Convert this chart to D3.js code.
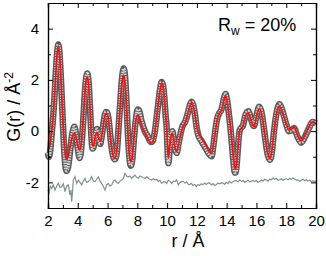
<!DOCTYPE html>
<html>
<head>
<meta charset="utf-8">
<script src="https://cdn.jsdelivr.net/npm/d3@7"></script>
<style>
  body { margin: 0; background: #fff; }
  text { font-family: "Liberation Sans", Arial, sans-serif; }
</style>
</head>
<body>
<div id="chart"></div>
<script>
// observed G(r) (open circles)
var rObs = [2.00,2.06,2.14,2.25,2.40,2.52,2.62,2.69,2.77,2.87,2.97,3.07,3.16,3.25,3.35,3.48,3.62,3.77,3.90,4.02,4.13,4.25,4.38,4.50,4.58,4.64,4.72,4.82,4.92,4.99,5.07,5.18,5.30,5.42,5.50,5.62,5.76,5.90,5.98,6.08,6.22,6.36,6.49,6.61,6.72,6.85,6.97,7.08,7.18,7.28,7.38,7.47,7.57,7.67,7.78,7.90,8.03,8.12,8.28,8.50,8.70,8.90,9.03,9.18,9.30,9.42,9.52,9.63,9.72,9.81,9.90,9.98,10.03,10.09,10.18,10.26,10.35,10.45,10.55,10.64,10.75,10.90,11.05,11.20,11.40,11.55,11.65,11.76,11.87,11.98,12.09,12.32,12.54,12.77,12.99,13.10,13.22,13.35,13.50,13.60,13.72,13.83,13.93,14.03,14.15,14.25,14.35,14.45,14.55,14.62,14.72,14.82,14.89,15.00,15.10,15.25,15.45,15.62,15.83,16.00,16.19,16.35,16.48,16.58,16.76,16.92,17.05,17.14,17.32,17.54,17.74,17.96,18.19,18.35,18.52,18.76,19.00,19.26,19.53,19.76,20.00];
var gObs = [-0.85,-1.00,-0.80,-0.10,1.00,2.25,3.10,3.38,3.05,2.00,0.70,-0.55,-1.30,-1.55,-1.40,-0.80,-0.15,0.17,-0.20,-0.75,-1.05,-0.55,0.55,1.70,2.15,2.25,1.95,0.95,-0.25,-0.68,-0.60,-0.15,0.08,-0.30,-0.50,-0.15,0.45,0.75,0.72,0.42,-0.40,-0.95,-1.10,-0.90,-0.05,1.10,2.05,2.44,2.10,1.00,-0.25,-1.05,-1.35,-1.05,-0.25,0.45,0.84,0.80,0.40,0.00,-0.20,-0.42,-0.40,0.00,0.55,1.15,1.60,1.92,1.80,1.35,0.60,0.05,-0.75,-1.25,-0.60,-0.15,0.00,-0.35,-0.72,-0.85,-0.55,-0.10,0.22,0.35,0.72,1.05,1.15,1.00,0.65,0.15,-0.15,-0.40,-0.62,-0.85,-0.98,-0.60,-0.05,0.45,0.70,0.78,1.00,1.32,1.45,1.20,0.65,0.15,-0.50,-1.15,-1.62,-1.60,-0.95,-0.20,0.06,0.15,0.22,0.60,0.78,0.50,0.20,0.60,0.95,0.70,0.20,-0.25,-0.92,-1.12,-0.75,-0.22,0.60,1.05,0.80,0.35,0.00,0.02,0.12,-0.22,-0.45,-0.22,0.12,0.36,0.30];

// calculated G(r) (red line)
var rFit = [2.00,2.12,2.25,2.40,2.52,2.62,2.69,2.77,2.87,2.97,3.07,3.16,3.25,3.36,3.50,3.65,3.79,3.92,4.04,4.15,4.26,4.38,4.50,4.58,4.64,4.72,4.82,4.92,4.99,5.07,5.18,5.30,5.42,5.52,5.63,5.76,5.88,5.96,6.06,6.20,6.35,6.48,6.60,6.72,6.85,6.97,7.07,7.17,7.28,7.38,7.47,7.57,7.67,7.78,7.90,8.02,8.12,8.29,8.50,8.72,8.92,9.05,9.18,9.30,9.42,9.52,9.63,9.72,9.81,9.90,9.98,10.03,10.08,10.18,10.26,10.35,10.45,10.55,10.64,10.75,10.90,11.05,11.20,11.40,11.55,11.65,11.76,11.87,11.98,12.09,12.32,12.54,12.77,12.99,13.10,13.22,13.35,13.50,13.62,13.72,13.83,13.93,14.03,14.15,14.25,14.35,14.45,14.55,14.62,14.72,14.82,14.89,15.00,15.10,15.25,15.45,15.62,15.83,16.00,16.19,16.35,16.48,16.58,16.76,16.92,17.05,17.14,17.32,17.54,17.74,17.96,18.19,18.35,18.52,18.76,19.00,19.26,19.53,19.76,20.00];
var gFit = [-0.74,-0.55,0.00,1.00,2.20,3.05,3.33,3.00,2.00,0.80,-0.30,-0.90,-1.10,-0.95,-0.55,-0.20,-0.08,-0.35,-0.65,-0.74,-0.35,0.60,1.65,2.05,2.12,1.85,0.90,-0.20,-0.58,-0.55,-0.20,-0.05,-0.30,-0.40,-0.10,0.40,0.68,0.70,0.45,-0.30,-0.90,-1.06,-0.85,-0.10,1.00,1.90,2.18,1.85,0.90,-0.20,-0.95,-1.20,-0.95,-0.20,0.40,0.62,0.56,0.23,-0.05,-0.30,-0.45,-0.40,0.00,0.56,1.15,1.55,1.88,1.75,1.30,0.60,0.10,-0.60,-1.05,-0.55,-0.20,-0.08,-0.35,-0.70,-0.80,-0.55,-0.15,0.15,0.32,0.69,1.00,1.12,0.95,0.65,0.20,-0.05,-0.29,-0.48,-0.74,-0.87,-0.55,-0.09,0.40,0.70,0.78,0.95,1.25,1.38,1.15,0.65,0.20,-0.40,-1.00,-1.45,-1.48,-0.90,-0.20,0.04,0.12,0.20,0.56,0.71,0.45,0.17,0.56,0.88,0.65,0.20,-0.22,-0.87,-1.06,-0.70,-0.22,0.56,0.97,0.75,0.36,0.04,0.08,0.17,-0.16,-0.38,-0.16,0.17,0.36,0.28];

// difference curve (obs - calc), drawn shifted by diffOffset
var diffOffset = -2;
var rDiff = [2.00,2.08,2.16,2.25,2.35,2.47,2.58,2.69,2.80,2.92,3.03,3.14,3.25,3.36,3.48,3.54,3.59,3.65,3.70,3.81,3.93,4.04,4.15,4.26,4.37,4.48,4.60,4.71,4.82,4.93,5.05,5.16,5.27,5.38,5.49,5.60,5.71,5.83,5.94,6.05,6.16,6.28,6.39,6.50,6.61,6.72,6.84,6.95,7.06,7.17,7.28,7.39,7.50,7.62,7.73,7.84,7.95,8.07,8.18,8.29,8.40,8.51,8.63,8.74,8.85,8.96,9.07,9.19,9.30,9.41,9.52,9.64,9.75,9.86,9.97,10.08,10.20,10.31,10.42,10.53,10.64,10.75,10.87,10.98,11.07,11.20,11.30,11.41,11.51,11.62,11.74,11.85,11.96,12.07,12.18,12.30,12.41,12.52,12.63,12.75,12.86,12.97,13.08,13.19,13.30,13.41,13.53,13.64,13.75,13.86,13.97,14.09,14.20,14.31,14.42,14.53,14.65,14.76,14.87,14.98,15.10,15.21,15.32,15.43,15.54,15.66,15.77,15.88,15.99,16.10,16.22,16.33,16.44,16.55,16.66,16.78,16.89,17.00,17.11,17.22,17.34,17.45,17.56,17.67,17.78,17.90,18.00,18.12,18.23,18.34,18.45,18.57,18.68,18.79,18.90,19.01,19.13,19.24,19.35,19.46,19.57,19.68,19.80,19.91,20.00];
var gDiff = [-0.30,-0.40,-0.15,-0.23,-0.10,-0.30,-0.15,-0.04,-0.20,-0.17,-0.05,-0.36,-0.15,-0.10,-0.49,-0.30,-0.75,-0.35,0.09,0.22,-0.04,0.09,0.00,-0.10,0.05,0.16,0.00,0.03,0.10,0.22,0.05,0.03,0.12,0.22,0.05,-0.04,-0.15,-0.30,-0.10,-0.04,-0.15,-0.10,0.05,0.09,0.00,-0.04,0.05,0.09,0.15,0.35,0.25,0.22,0.25,0.16,0.22,0.28,0.20,0.16,0.25,0.22,0.18,0.16,0.22,0.16,0.12,0.09,0.14,0.09,0.12,0.03,0.08,-0.04,0.02,0.03,-0.04,0.09,0.04,-0.04,0.05,0.03,0.10,-0.10,0.00,0.03,0.04,-0.02,0.02,-0.06,-0.09,-0.04,-0.12,-0.08,-0.16,-0.08,-0.12,-0.05,-0.09,-0.03,-0.08,-0.02,-0.03,-0.10,-0.05,-0.12,-0.09,-0.03,-0.06,-0.02,-0.03,-0.08,0.00,-0.05,0.04,-0.02,0.02,0.06,0.07,0.02,0.10,0.04,0.07,0.00,0.04,0.09,0.02,0.05,0.07,0.03,0.08,0.00,0.04,0.09,0.05,0.12,0.10,0.05,0.13,0.10,0.17,0.12,0.15,0.08,0.10,0.14,0.08,0.12,0.14,0.10,0.15,0.12,0.17,0.13,0.09,0.10,0.04,0.08,0.12,0.06,0.10,0.05,0.08,0.04,0.06,0.03,0.05];

// ticks
var xMajor = [2,4,6,8,10,12,14,16,18,20];
var xMinor = [3,5,7,9,11,13,15,17,19];
var yMajor = [-2,0,2,4];
var yMinor = [-1,1,3];

var svgWidth = 326, svgHeight = 256;
var margin = {top: 3, right: 10, bottom: 48, left: 48};
var width = svgWidth - margin.left - margin.right;
var height = svgHeight - margin.top - margin.bottom;

var svg = d3.select("#chart").append("svg")
    .attr("width", svgWidth)
    .attr("height", svgHeight);
var g = svg.append("g")
    .attr("transform", `translate(${margin.left},${margin.top})`);

var x = d3.scaleLinear().domain([2, 20]).range([0, width]);
var y = d3.scaleLinear().domain([-3, 5]).range([height, 0]);

var obs = rObs.map(function(r, i) { return [r, gObs[i]]; });
var fit = rFit.map(function(r, i) { return [r, gFit[i]]; });
var diff = rDiff.map(function(r, i) { return [r, gDiff[i] + diffOffset]; });

var smooth = d3.line()
    .x(function(d) { return x(d[0]); })
    .y(function(d) { return y(d[1]); })
    .curve(d3.curveMonotoneX);
var plain = d3.line()
    .x(function(d) { return x(d[0]); })
    .y(function(d) { return y(d[1]); });

// difference curve
g.append("path").datum(diff)
    .attr("d", plain)
    .attr("fill", "none")
    .attr("stroke", "#858f8d")
    .attr("stroke-width", 1.2);

// observed data: open circles drawn as a hollow grey band
g.append("path").datum(obs)
    .attr("d", smooth)
    .attr("fill", "none")
    .attr("stroke", "#5a5a5a")
    .attr("stroke-width", 6.5);
g.append("path").datum(obs)
    .attr("d", smooth)
    .attr("fill", "none")
    .attr("stroke", "#d6d6d6")
    .attr("stroke-width", 3.5)
    .attr("stroke-dasharray", "1.5,1");

// calculated
g.append("path").datum(fit)
    .attr("d", smooth)
    .attr("fill", "none")
    .attr("stroke", "#ff0d0d")
    .attr("stroke-width", 1.8);

// axes with inward ticks on all four sides
function noLabel() { return ""; }
g.append("g").attr("transform", `translate(0,${height})`)
    .call(d3.axisBottom(x).tickValues(xMajor).tickSize(-5).tickPadding(7).tickFormat(function(d) { return String(d); }));
g.append("g").attr("transform", `translate(0,${height})`)
    .call(d3.axisBottom(x).tickValues(xMinor).tickSize(-3).tickFormat(noLabel));
g.append("g")
    .call(d3.axisTop(x).tickValues(xMajor).tickSize(-5).tickFormat(noLabel));
g.append("g")
    .call(d3.axisTop(x).tickValues(xMinor).tickSize(-3).tickFormat(noLabel));
g.append("g")
    .call(d3.axisLeft(y).tickValues(yMajor).tickSize(-5).tickPadding(9).tickFormat(function(d) { return String(d); }));
g.append("g")
    .call(d3.axisLeft(y).tickValues(yMinor).tickSize(-3).tickFormat(noLabel));
g.append("g").attr("transform", `translate(${width},0)`)
    .call(d3.axisRight(y).tickValues(yMajor).tickSize(-5).tickFormat(noLabel));
g.append("g").attr("transform", `translate(${width},0)`)
    .call(d3.axisRight(y).tickValues(yMinor).tickSize(-3).tickFormat(noLabel));

g.selectAll(".domain").attr("stroke", "#000").attr("stroke-width", 1.2);
g.selectAll(".tick line").attr("stroke", "#000");
g.selectAll(".tick text")
    .style("font-family", "'Liberation Sans', Arial, sans-serif")
    .style("font-size", "15px")
    .attr("fill", "#000");

// axis titles
svg.append("text")
    .attr("x", 188).attr("y", 247)
    .attr("text-anchor", "middle")
    .style("font-size", "18px")
    .text("r / Å");

var yt = svg.append("text")
    .attr("transform", "translate(20,107) rotate(-90)")
    .attr("text-anchor", "middle")
    .style("font-size", "18px");
yt.append("tspan").text("G(r) / Å");
yt.append("tspan").attr("dy", -7).style("font-size", "12px").text("-2");

// R_w label
var rw = svg.append("text")
    .attr("x", 218).attr("y", 31)
    .style("font-size", "18px");
rw.append("tspan").text("R");
rw.append("tspan").attr("dy", 4).style("font-size", "12px").text("w");
rw.append("tspan").attr("dy", -4).text(" = 20%");
</script>
</body>
</html>
